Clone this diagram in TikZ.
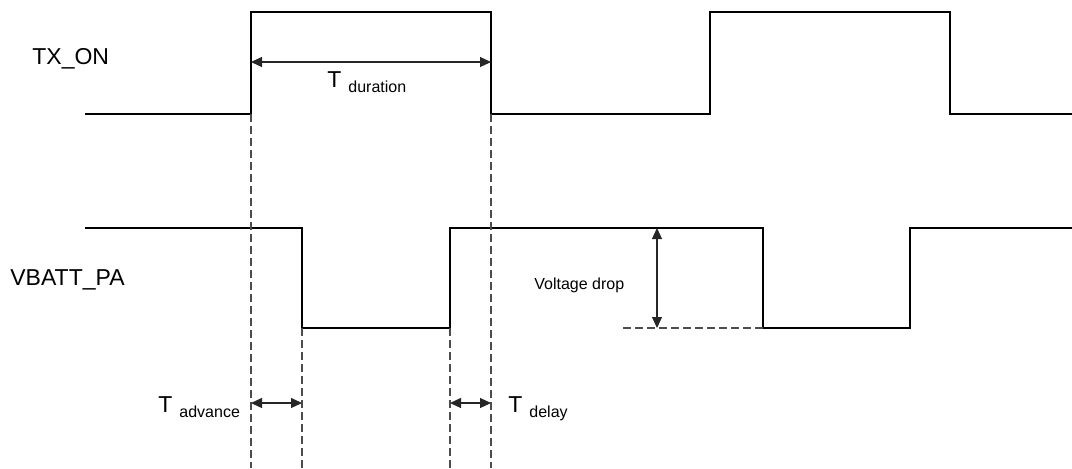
\documentclass[tikz,border=0pt]{standalone}
\usepackage{fontspec}
\setmainfont{Liberation Sans}
\usetikzlibrary{arrows.meta}
\tikzset{
  wave/.style={line width=1.2pt, line join=miter},
  guide/.style={line width=0.55pt, color=black!70, dash pattern=on 4pt off 2pt},
  span/.style={line width=0.6pt, color=black!85, {Triangle[length=5.5pt,width=5pt]}-{Triangle[length=5.5pt,width=5pt]}},
  biglabel/.style={font=\fontsize{11.5}{13}\selectfont, inner sep=0pt},
  smalllabel/.style={font=\fontsize{8}{9.6}\selectfont, inner sep=0pt}
}
\newcommand{\tlabel}[1]{T\hspace{3.5pt}\raisebox{-2.5pt}{\fontsize{8}{9.6}\selectfont #1}}

\begin{document}
\begin{tikzpicture}[x=0.5pt,y=-0.5pt]
		\useasboundingbox (0,0) rectangle (1072,468);
		%%%%% START %%%%%
		
		% signal names
		\node[biglabel, anchor=west] (txon) at (32,59) {TX\_ON};
		\node[biglabel, anchor=west] (vbatt) at (10,280) {VBATT\_PA};
		
		% TX_ON trace
		\draw[wave] (85,114) -- (251,114) -- (251,12) -- (491,12) -- (491,114) -- (710,114) -- (710,12) -- (950,12) -- (950,114) -- (1072,114);
		
		% VBATT_PA trace
		\draw[wave] (85,228) -- (302,228) -- (302,328) -- (450,328) -- (450,228) -- (763,228) -- (763,328) -- (910,328) -- (910,228) -- (1072,228);
		
		% guide lines
		\draw[guide] (251,114) -- (251,468);
		\draw[guide] (302,328) -- (302,468);
		\draw[guide] (450,328) -- (450,468);
		\draw[guide] (491,114) -- (491,468);
		\draw[guide] (623,328) -- (763,328);
		
		% T duration
		\coordinate (durL) at (251,62);
		\coordinate (durR) at (491,62);
		\draw[span] (durL) -- (durR);
		\node[biglabel, anchor=base west] (tdur) at (327,87) {\tlabel{duration}};
		
		% T advance
		\coordinate (advL) at (251,403);
		\coordinate (advR) at (302,403);
		\draw[span] (advL) -- (advR);
		\node[biglabel, anchor=base west] (tadv) at (158,412) {\tlabel{advance}};
		
		% T delay
		\coordinate (dlyL) at (450,403);
		\coordinate (dlyR) at (491,403);
		\draw[span] (dlyL) -- (dlyR);
		\node[biglabel, anchor=base west] (tdly) at (508,412) {\tlabel{delay}};
		
		% voltage drop
		\coordinate (dropT) at (657,228);
		\coordinate (dropB) at (657,328);
		\draw[span] (dropT) -- (dropB);
		\node[smalllabel, anchor=base west] (vdrop) at (534,289) {Voltage drop};
		
		%%%%% END %%%%%
	\end{tikzpicture}
\end{document}
